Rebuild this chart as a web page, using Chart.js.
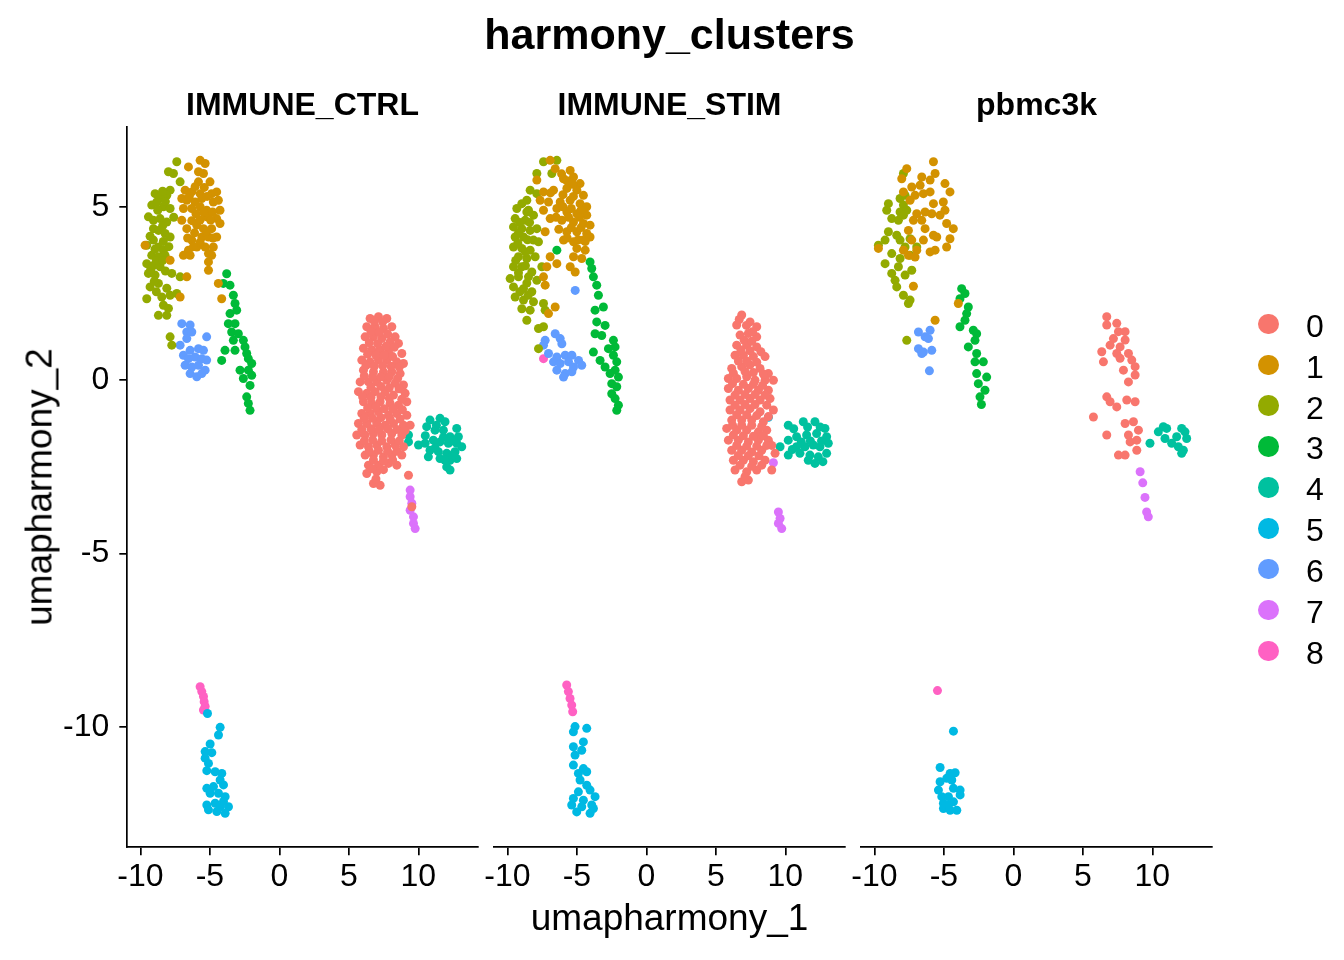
<!DOCTYPE html>
<html>
<head>
<meta charset="utf-8">
<script src="https://cdn.jsdelivr.net/npm/chart.js@4.4.1/dist/chart.umd.min.js"></script>
<style>
html,body{margin:0;padding:0;background:#fff;}
#wrap{position:relative;width:1344px;height:960px;overflow:hidden;font-family:"Liberation Sans",Arial,Helvetica,sans-serif;color:#000;}
canvas.layer{position:absolute;left:0;top:0;}
.txt{position:absolute;white-space:nowrap;line-height:1;}
.dot{position:absolute;border-radius:50%;}
</style>
</head>
<body>
<div id="wrap">
<canvas id="p0" class="layer" width="1344" height="960"></canvas>
<canvas id="p1" class="layer" width="1344" height="960"></canvas>
<canvas id="p2" class="layer" width="1344" height="960"></canvas>
</div>
<script>
// ---------------- data ----------------
const plotTitle = 'harmony_clusters';
const xAxisTitle = 'umapharmony_1';
const yAxisTitle = 'umapharmony_2';
const panels = ['IMMUNE_CTRL', 'IMMUNE_STIM', 'pbmc3k'];
const clusters = ['0', '1', '2', '3', '4', '5', '6', '7', '8'];
const clusterColors = ['#F8766D', '#D39200', '#93AA00', '#00BA38', '#00C19F', '#00B9E3', '#619CFF', '#DB72FB', '#FF61C3'];
const xTicks = [-10, -5, 0, 5, 10];
const yTicks = [-10, -5, 0, 5];
const xRange = [-10.94, 14.27];
const yRange = [-13.47, 7.31];

// IMMUNE_CTRL
const ctrl0 = [[6.53,1.78],[7.13,1.83],[7.73,1.78],[6.29,1.54],[6.89,1.54],[7.49,1.49],[8.09,1.54],[8.33,1.25],[6.17,1.25],[6.77,1.25],[7.37,1.20],[7.97,1.11],[8.57,1.06],[6.05,0.92],[6.65,0.87],[7.25,0.87],[7.85,0.82],[8.81,0.77],[5.93,0.58],[6.53,0.53],[7.13,0.58],[7.73,0.58],[8.45,0.53],[8.93,0.48],[6.05,0.29],[6.77,0.24],[7.49,0.24],[8.09,0.24],[8.69,0.19],[5.81,-0.05],[6.41,-0.05],[7.01,-0.05],[7.73,0.00],[8.33,-0.09],[8.93,-0.14],[5.69,-0.33],[6.29,-0.38],[6.89,-0.33],[7.61,-0.33],[8.21,-0.43],[9.05,-0.38],[9.17,-0.62],[6.05,-0.62],[6.65,-0.67],[7.25,-0.62],[7.97,-0.67],[8.57,-0.72],[5.93,-0.96],[6.53,-0.96],[7.13,-0.91],[7.85,-1.01],[8.45,-0.96],[9.17,-1.01],[5.69,-1.25],[6.29,-1.25],[7.01,-1.25],[7.61,-1.30],[8.21,-1.25],[8.93,-1.30],[9.41,-1.30],[5.57,-1.58],[6.17,-1.58],[6.77,-1.54],[7.37,-1.58],[8.09,-1.54],[8.81,-1.58],[5.81,-1.87],[6.41,-1.92],[7.01,-1.87],[7.73,-1.92],[8.33,-1.87],[8.93,-1.92],[6.17,-2.16],[6.77,-2.16],[7.49,-2.21],[8.09,-2.16],[8.81,-2.16],[6.41,-2.45],[7.13,-2.45],[7.85,-2.40],[8.45,-2.45],[6.29,-2.69],[7.01,-2.64],[9.29,-2.74],[6.77,-2.98],[7.25,-3.03],[9.53,-3.65],
  [6.83,1.70],[7.43,1.68],[6.59,1.40],[7.19,1.38],[7.79,1.33],[6.47,1.08],[7.07,1.05],[7.67,0.98],[8.27,0.95],[6.35,0.75],[6.95,0.72],[7.55,0.72],[8.15,0.68],[6.23,0.42],[6.83,0.40],[7.43,0.42],[8.03,0.40],[8.63,0.38],[6.11,0.12],[6.71,0.10],[7.31,0.10],[7.91,0.10],[8.51,0.05],[6.59,-0.20],[7.31,-0.18],[7.91,-0.22],[8.61,-0.25],[5.99,-0.48],[6.59,-0.50],[7.31,-0.48],[7.91,-0.52],[8.81,-0.55],[6.35,-0.80],[6.95,-0.78],[7.55,-0.82],[8.15,-0.82],[8.85,-0.85],[6.11,-1.10],[6.71,-1.10],[7.31,-1.08],[7.97,-1.12],[8.69,-1.12],[5.93,-1.42],[6.59,-1.40],[7.19,-1.42],[7.79,-1.40],[8.45,-1.42],[9.05,-1.45],[6.11,-1.75],[6.71,-1.72],[7.37,-1.75],[8.03,-1.72],[8.63,-1.75],[6.47,-2.05],[7.13,-2.02],[7.79,-2.05],[8.45,-2.05],[6.77,-2.30],[7.49,-2.32],[8.15,-2.30],[6.65,-2.55],[7.49,-2.58],[6.95,-2.85]];
const ctrl1 = [[-5.70,6.34],[-5.34,6.25],[-6.54,6.15],[-5.82,6.01],[-5.46,5.96],[-4.99,5.72],[-5.82,5.72],[-6.78,5.48],[-6.30,5.43],[-5.70,5.38],[-4.87,5.38],[-4.51,5.43],[-7.02,5.24],[-6.66,5.19],[-6.06,5.14],[-5.58,5.24],[-4.75,5.14],[-4.39,5.19],[-6.90,4.95],[-6.30,4.95],[-5.70,5.00],[-5.23,4.90],[-4.27,4.90],[-5.23,4.71],[-4.51,4.66],[-7.02,4.61],[-6.66,4.37],[-5.94,4.47],[-5.46,4.37],[-4.87,4.37],[-4.27,4.52],[-5.58,4.13],[-5.10,4.13],[-4.51,4.13],[-6.30,4.04],[-5.94,3.84],[-5.34,3.84],[-4.75,3.84],[-6.54,3.75],[-6.90,3.60],[-6.42,3.60],[-4.87,3.60],[-7.86,3.46],[-5.10,3.41],[-5.10,3.17],[-9.66,3.89],[-6.66,2.98],[-4.39,2.79],[-4.15,2.35],[-7.14,2.40],
  [-6.06,5.58],[-5.40,5.56],[-6.48,5.30],[-5.20,5.30],[-6.00,4.80],[-5.46,4.84],[-4.80,4.85],[-6.30,4.60],[-5.70,4.62],[-4.95,4.62],[-6.10,4.25],[-5.25,4.30],[-4.78,4.10],[-5.70,3.98],[-6.18,3.85],[-5.10,3.65],[-6.60,4.10]];
const ctrl2 = [[-7.38,6.30],[-7.98,6.01],[-7.62,5.96],[-7.14,5.72],[-7.86,5.48],[-8.94,5.38],[-8.58,5.29],[-8.10,5.33],[-9.18,5.05],[-8.82,5.14],[-8.34,5.00],[-7.86,4.95],[-9.42,4.71],[-9.06,4.61],[-8.58,4.66],[-8.10,4.56],[-9.06,4.37],[-8.70,4.32],[-8.22,4.23],[-7.86,4.13],[-9.54,3.89],[-9.06,4.04],[-8.70,3.84],[-8.34,3.75],[-9.18,3.60],[-8.70,3.56],[-8.22,3.60],[-9.54,3.36],[-9.06,3.31],[-8.58,3.27],[-9.42,3.08],[-8.94,3.03],[-7.74,3.08],[-7.14,2.98],[-8.70,2.79],[-9.30,2.69],[-9.54,2.35],[-8.46,2.40],[-7.86,2.45],[-7.38,2.50],[-8.34,2.16],[-7.98,2.07],[-8.70,1.87],[-8.10,1.87],[-7.86,1.25],[-7.74,1.01],
  [-8.40,5.45],[-8.20,5.15],[-8.75,4.90],[-7.60,4.70],[-8.40,4.45],[-9.30,4.15],[-8.35,4.00],[-8.95,3.78],[-7.95,3.85],[-8.85,3.45],[-8.40,3.45],[-9.25,3.20],[-8.20,3.15],[-9.00,2.85],[-8.10,2.65],[-8.85,2.55]];
const ctrl3 = [[-3.79,3.07],[-3.55,2.74],[-4.03,2.79],[-3.31,2.45],[-3.19,2.21],[-3.55,1.92],[-3.07,2.02],[-3.67,1.63],[-3.19,1.63],[-3.43,1.39],[-2.95,1.34],[-3.31,1.15],[-2.59,1.15],[-2.47,0.96],[-3.91,0.86],[-3.19,0.86],[-2.35,0.77],[-4.15,0.57],[-2.23,0.62],[-1.99,0.48],[-2.83,0.29],[-2.23,0.29],[-1.99,0.14],[-2.59,0.05],[-2.11,-0.15],[-2.35,-0.48],[-2.23,-0.67],[-2.11,-0.87]];
const ctrl4 = [[10.84,-1.15],[11.56,-1.10],[11.92,-1.20],[12.76,-1.39],[10.60,-1.34],[11.20,-1.44],[11.80,-1.44],[12.28,-1.63],[12.88,-1.63],[9.29,-1.58],[9.29,-1.78],[10.01,-1.87],[10.49,-1.82],[11.08,-1.73],[11.56,-1.78],[12.16,-1.82],[12.76,-1.82],[13.12,-1.92],[10.84,-2.02],[11.44,-2.06],[12.04,-2.11],[12.64,-2.06],[10.72,-2.21],[11.56,-2.26],[12.28,-2.31],[12.76,-2.26],[12.04,-2.50],[12.28,-2.59],
  [11.30,-1.30],[10.50,-1.60],[11.80,-1.65],[12.50,-1.75],[11.20,-1.95],[11.90,-2.30],[12.50,-2.15]];
const ctrl5 = [[-5.17,-9.61],[-4.26,-10.01],[-4.38,-10.23],[-4.98,-10.49],[-5.34,-10.71],[-4.86,-10.74],[-5.34,-10.90],[-5.10,-11.05],[-5.22,-11.26],[-4.62,-11.29],[-4.14,-11.34],[-4.26,-11.53],[-4.02,-11.67],[-5.22,-11.77],[-4.74,-11.72],[-4.98,-11.91],[-4.38,-11.91],[-3.90,-12.01],[-5.22,-12.25],[-4.62,-12.20],[-4.02,-12.15],[-3.66,-12.30],[-5.10,-12.39],[-4.50,-12.44],[-3.90,-12.49],[-4.26,-12.30]];
const ctrl6 = [[-7.02,1.63],[-6.42,1.59],[-6.66,1.39],[-6.30,1.39],[-5.23,1.25],[-6.66,1.20],[-7.14,1.01],[-6.42,0.86],[-5.82,0.91],[-5.46,0.86],[-6.90,0.72],[-6.54,0.62],[-6.06,0.67],[-5.58,0.62],[-5.23,0.58],[-6.78,0.43],[-6.30,0.38],[-5.82,0.43],[-5.34,0.29],[-6.42,0.19],[-5.94,0.10],[-5.58,0.19]];
const ctrl7 = [[9.41,-3.17],[9.41,-3.36],[9.53,-3.55],[9.41,-3.75],[9.65,-3.94],[9.65,-4.13],[9.77,-4.28]];
const ctrl8 = [[-5.70,-8.84],[-5.58,-8.98],[-5.46,-9.12],[-5.41,-9.27],[-5.34,-9.41],[-5.46,-9.51]];

// IMMUNE_STIM
const stim0 = [[6.86,1.88],[6.50,1.59],[7.46,1.68],[7.94,1.54],[6.74,1.30],[7.34,1.35],[7.94,1.25],[6.50,1.01],[7.22,1.01],[7.94,0.96],[6.38,0.72],[6.98,0.72],[7.70,0.68],[8.54,0.68],[6.14,0.34],[6.86,0.39],[7.46,0.44],[8.18,0.34],[8.78,0.19],[5.90,0.05],[6.50,0.05],[7.22,0.10],[7.82,0.00],[8.54,0.00],[9.14,0.00],[5.90,-0.24],[6.62,-0.29],[7.34,-0.24],[8.06,-0.29],[8.78,-0.29],[6.02,-0.57],[6.74,-0.57],[7.46,-0.53],[8.18,-0.57],[8.90,-0.53],[9.14,-0.86],[6.02,-0.86],[6.74,-0.86],[7.46,-0.82],[8.18,-0.91],[6.14,-1.15],[6.86,-1.15],[7.58,-1.15],[8.42,-1.20],[5.78,-1.39],[6.50,-1.44],[7.22,-1.44],[8.06,-1.49],[8.66,-1.44],[5.90,-1.73],[6.62,-1.73],[7.34,-1.78],[8.06,-1.73],[8.78,-1.73],[6.14,-2.02],[6.86,-2.02],[7.58,-2.07],[8.30,-2.02],[9.26,-2.11],[6.26,-2.31],[6.98,-2.31],[7.70,-2.35],[8.54,-2.31],[6.38,-2.59],[7.22,-2.64],[7.94,-2.59],[9.02,-2.59],[6.86,-2.93],[7.34,-2.88],
  [6.68,1.75],[7.20,1.58],[7.64,1.40],[7.04,1.15],[7.58,1.12],[6.80,0.87],[7.46,0.85],[8.24,0.82],[6.62,0.55],[7.22,0.55],[7.94,0.52],[6.26,0.20],[7.10,0.25],[7.70,0.22],[8.42,0.18],[6.20,-0.10],[6.98,-0.12],[7.70,-0.12],[8.36,-0.15],[6.38,-0.43],[7.10,-0.41],[7.82,-0.41],[8.54,-0.43],[6.38,-0.72],[7.10,-0.70],[7.82,-0.70],[8.66,-0.72],[6.50,-1.00],[7.22,-1.00],[7.94,-1.02],[8.78,-1.05],[6.20,-1.30],[6.86,-1.30],[7.58,-1.30],[8.30,-1.33],[6.26,-1.58],[6.98,-1.60],[7.70,-1.62],[8.42,-1.60],[9.02,-1.88],[6.50,-1.88],[7.22,-1.90],[7.94,-1.90],[8.66,-1.88],[6.62,-2.17],[7.34,-2.18],[8.10,-2.18],[6.74,-2.45],[7.58,-2.48],[8.30,-2.45],[7.10,-2.78]];
const stim1 = [[-6.92,6.34],[-6.56,6.10],[-7.88,5.77],[-5.48,6.05],[-5.96,5.81],[-5.24,5.86],[-4.77,5.67],[-7.40,5.43],[-6.68,5.48],[-5.72,5.53],[-5.00,5.48],[-4.53,5.33],[-7.64,5.19],[-7.04,5.14],[-6.20,5.14],[-5.48,5.19],[-4.77,5.09],[-4.29,5.00],[-7.40,4.90],[-6.44,4.95],[-5.72,4.85],[-5.00,4.80],[-4.29,4.76],[-6.92,4.66],[-6.08,4.61],[-5.24,4.56],[-4.53,4.52],[-4.05,4.47],[-7.28,4.28],[-5.72,4.28],[-5.00,4.28],[-4.29,4.23],[-5.96,4.04],[-5.24,3.99],[-4.53,4.04],[-4.05,4.13],[-6.92,3.56],[-6.44,3.36],[-7.16,3.27],[-5.24,3.56],[-4.65,3.51],[-5.48,3.27],[-5.12,3.12],[-7.40,2.98],[-7.28,2.74],[-6.56,2.11],[-7.04,1.92],
  [-6.10,5.95],[-5.72,5.75],[-5.30,5.65],[-6.00,5.35],[-5.25,5.30],[-6.90,5.40],[-6.00,5.00],[-5.40,4.95],[-4.70,4.90],[-6.50,4.70],[-5.60,4.70],[-4.80,4.70],[-5.40,4.40],[-4.70,4.40],[-6.30,4.35],[-5.70,4.10],[-4.90,4.05],[-4.40,4.00],[-5.00,3.80],[-4.40,3.75]];
const stim2 = [[-7.40,6.30],[-6.44,6.34],[-6.80,5.96],[-7.88,5.96],[-8.36,5.48],[-7.88,5.38],[-8.60,5.19],[-8.96,5.09],[-8.48,4.90],[-9.32,4.95],[-8.12,4.76],[-9.44,4.66],[-8.72,4.61],[-9.56,4.42],[-8.96,4.37],[-8.36,4.32],[-7.88,4.37],[-9.44,4.13],[-8.84,4.13],[-8.12,4.04],[-7.76,3.99],[-9.56,3.84],[-8.96,3.80],[-8.36,3.75],[-9.20,3.56],[-8.60,3.51],[-8.00,3.56],[-9.56,3.27],[-8.96,3.27],[-7.52,3.27],[-8.24,3.12],[-9.80,2.93],[-9.20,2.98],[-8.48,2.98],[-7.88,2.88],[-9.56,2.69],[-8.84,2.64],[-8.24,2.55],[-9.44,2.40],[-8.84,2.31],[-8.12,2.26],[-7.40,2.21],[-8.96,2.06],[-8.36,2.02],[-7.28,2.02],[-8.60,1.73],[-7.76,1.49],[-7.40,1.54],[-7.76,0.91],
  [-8.60,4.85],[-9.10,4.55],[-8.40,4.55],[-9.20,4.25],[-8.55,4.05],[-9.25,3.95],[-8.70,3.70],[-9.40,3.45],[-8.70,3.30],[-9.20,3.10],[-8.60,2.80],[-9.10,2.55],[-8.50,2.45]];
const stim3 = [[-6.44,3.75],[-4.05,3.41],[-3.93,3.22],[-3.81,2.98],[-3.57,2.74],[-3.45,2.45],[-3.69,2.02],[-3.09,2.11],[-3.57,1.68],[-2.97,1.58],[-3.69,1.34],[-3.21,1.29],[-2.37,1.15],[-2.25,0.96],[-2.73,0.91],[-3.81,0.81],[-2.37,0.72],[-3.33,0.57],[-2.13,0.53],[-2.97,0.38],[-2.25,0.29],[-2.61,0.19],[-2.01,0.09],[-2.49,-0.10],[-2.13,-0.19],[-2.49,-0.39],[-2.25,-0.53],[-2.01,-0.72],[-2.13,-0.87]];
const stim4 = [[10.21,-1.30],[11.29,-1.20],[12.13,-1.20],[12.85,-1.39],[9.62,-1.92],[10.21,-1.73],[10.81,-1.63],[11.53,-1.58],[12.25,-1.54],[12.97,-1.63],[13.09,-1.82],[10.21,-2.16],[10.81,-1.92],[11.41,-1.92],[12.01,-1.87],[12.49,-1.92],[11.05,-2.11],[11.77,-2.16],[12.37,-2.21],[12.97,-2.11],[11.65,-2.31],[12.13,-2.40],
  [10.60,-1.40],[11.60,-1.35],[12.50,-1.35],[11.15,-1.78],[11.80,-1.75],[12.60,-1.75],[10.50,-2.00],[12.70,-2.35]];
const stim5 = [[8.78,-1.07],[-5.13,-9.99],[-4.29,-10.04],[-5.25,-10.14],[-4.53,-10.43],[-5.25,-10.57],[-4.65,-10.67],[-5.13,-10.81],[-5.25,-11.10],[-4.53,-11.20],[-4.89,-11.34],[-4.29,-11.29],[-4.77,-11.53],[-4.29,-11.68],[-4.89,-11.87],[-4.05,-11.82],[-5.25,-12.06],[-4.53,-12.11],[-3.69,-12.01],[-5.37,-12.25],[-4.65,-12.30],[-3.93,-12.25],[-5.01,-12.45],[-4.05,-12.49],[-3.81,-12.35]];
const stim6 = [[-5.12,2.59],[-6.56,1.34],[-6.20,1.20],[-7.28,1.15],[-6.08,1.05],[-7.40,1.01],[-7.04,0.77],[-6.44,0.67],[-5.84,0.72],[-5.36,0.72],[-4.88,0.57],[-4.65,0.43],[-6.68,0.53],[-6.20,0.48],[-5.60,0.53],[-5.24,0.38],[-6.44,0.29],[-5.84,0.19],[-5.36,0.24],[-5.96,0.09]];
const stim7 = [[9.14,-2.38],[9.50,-3.80],[9.62,-3.99],[9.50,-4.13],[9.74,-4.28]];
const stim8 = [[-7.40,0.62],[-5.73,-8.79],[-5.61,-8.98],[-5.49,-9.18],[-5.37,-9.37],[-5.30,-9.56]];

// pbmc3k
const pbmc0 = [[6.72,1.83],[6.72,1.59],[7.44,1.64],[7.56,1.40],[8.04,1.40],[7.20,1.20],[8.04,1.16],[6.96,1.01],[7.68,0.96],[6.36,0.82],[7.44,0.77],[8.28,0.77],[6.48,0.53],[7.68,0.63],[8.52,0.58],[8.76,0.39],[7.92,0.29],[8.76,0.15],[8.28,-0.05],[6.72,-0.48],[6.96,-0.62],[7.44,-0.77],[8.16,-0.57],[8.76,-0.62],[5.76,-1.06],[8.04,-1.25],[8.64,-1.20],[9.00,-1.44],[6.72,-1.58],[8.28,-1.58],[8.40,-1.78],[8.88,-1.73],[7.56,-2.16],[8.04,-2.16],[8.88,-2.02]];
const pbmc1 = [[-7.67,6.10],[-5.75,6.30],[-5.63,5.96],[-6.59,5.86],[-5.99,5.77],[-8.03,5.81],[-7.31,5.57],[-6.71,5.62],[-5.99,5.43],[-4.92,5.67],[-4.56,5.43],[-7.91,5.43],[-7.07,5.33],[-6.47,5.38],[-7.43,5.19],[-5.75,5.09],[-5.04,5.14],[-4.92,4.90],[-6.95,4.80],[-6.35,4.85],[-5.87,4.80],[-7.19,4.61],[-6.59,4.61],[-5.28,4.76],[-4.80,4.52],[-4.32,4.37],[-7.55,4.32],[-6.35,4.37],[-5.75,4.18],[-5.51,4.13],[-4.56,4.08],[-7.31,4.04],[-6.47,4.04],[-7.91,3.75],[-6.95,3.75],[-5.99,3.70],[-5.63,3.75],[-4.80,3.84],[-7.55,3.60],[-7.07,3.55],[-9.71,3.80],[-7.19,2.71],[-3.96,2.21],[-5.63,1.73]];
const pbmc2 = [[-7.91,5.96],[-8.99,5.09],[-9.11,4.90],[-8.15,5.24],[-7.79,5.33],[-7.91,5.05],[-8.15,4.85],[-7.67,4.90],[-8.75,4.66],[-8.27,4.61],[-7.91,4.76],[-8.99,4.28],[-8.39,4.18],[-9.23,4.04],[-9.71,3.89],[-8.15,4.04],[-7.43,4.08],[-6.95,3.84],[-7.79,3.84],[-8.75,3.65],[-8.15,3.51],[-7.43,3.60],[-9.23,3.36],[-8.27,3.27],[-8.75,3.08],[-7.79,3.03],[-7.31,3.17],[-8.51,2.88],[-8.39,2.69],[-7.91,2.45],[-7.55,2.21],[-7.43,2.31],[-7.67,1.15]];
const pbmc3 = [[-3.72,2.64],[-3.48,2.50],[-3.84,2.35],[-3.24,2.11],[-3.36,1.92],[-3.48,1.73],[-3.84,1.54],[-2.88,1.44],[-2.64,1.34],[-2.76,1.15],[-3.24,0.96],[-2.64,0.77],[-2.76,0.53],[-2.16,0.53],[-2.64,0.19],[-1.92,0.09],[-2.52,-0.10],[-2.04,-0.29],[-2.40,-0.48],[-2.30,-0.70]];
const pbmc4 = [[9.83,-1.82],[10.43,-1.49],[10.79,-1.34],[11.03,-1.39],[10.91,-1.68],[11.39,-1.82],[11.75,-1.63],[12.11,-1.39],[12.35,-1.49],[12.47,-1.68],[11.87,-1.92],[12.23,-2.02],[12.11,-2.11]];
const pbmc5 = [[-4.31,-10.12],[-5.27,-11.17],[-4.55,-11.34],[-4.19,-11.32],[-4.79,-11.48],[-5.27,-11.58],[-4.43,-11.53],[-5.39,-11.82],[-4.31,-11.77],[-3.83,-11.82],[-3.83,-11.96],[-5.15,-12.01],[-4.67,-12.01],[-5.03,-12.20],[-4.31,-12.16],[-5.03,-12.35],[-4.55,-12.40],[-4.07,-12.40],[-4.67,-12.25]];
const pbmc6 = [[-6.83,1.39],[-6.35,1.25],[-5.99,1.44],[-6.11,1.20],[-6.83,0.91],[-6.47,0.81],[-5.87,0.86],[-6.59,0.77],[-6.04,0.27]];
const pbmc7 = [[9.12,-2.64],[9.31,-2.96],[9.47,-3.38],[9.59,-3.80],[9.71,-3.94]];
const pbmc8 = [[-5.46,-8.95]];

const panelSets = [
  [ctrl0, ctrl1, ctrl2, ctrl3, ctrl4, ctrl5, ctrl6, ctrl7, ctrl8],
  [stim0, stim1, stim2, stim3, stim4, stim5, stim6, stim7, stim8],
  [pbmc0, pbmc1, pbmc2, pbmc3, pbmc4, pbmc5, pbmc6, pbmc7, pbmc8]
];

// ---------------- layout ----------------
const W = 1344, H = 960;
const FONT = '"Liberation Sans", Arial, Helvetica, sans-serif';
const panelLeft = [127.3, 494.3, 861.3];
const panelWidth = 350.4;
const panelTop = 126.7, panelBottom = 847.3;
const xAxisH = 60;
const pointR = 4.5;
const ASC = 0.8465; // baseline offset for line-height:1 boxes

const wrap = document.getElementById('wrap');
function addText(str, cx, baseline, size, bold) {
  const d = document.createElement('div');
  d.className = 'txt';
  d.textContent = str;
  d.style.fontSize = size + 'px';
  d.style.fontWeight = bold ? 'bold' : 'normal';
  d.style.left = cx + 'px';
  d.style.top = (baseline - ASC * size) + 'px';
  d.style.transform = 'translateX(-50%)';
  wrap.appendChild(d);
  return d;
}
const plotCenter = (panelLeft[0] + panelLeft[2] + panelWidth) / 2;
addText(plotTitle, plotCenter, 49, 43, true);
panels.forEach((p, i) => addText(p, panelLeft[i] + panelWidth / 2, 115, 32, true));
addText(xAxisTitle, plotCenter, 930, 37, false);
const yt = document.createElement('div');
yt.className = 'txt';
yt.textContent = yAxisTitle;
yt.style.fontSize = '37px';
yt.style.left = '39px';
yt.style.top = ((panelTop + panelBottom) / 2) + 'px';
yt.style.transform = 'translate(-50%,-50%) rotate(-90deg)';
wrap.appendChild(yt);

// legend
const legX = 1268.7, legTop = 324, legStep = 40.85, legR = 10.3;
clusters.forEach((c, i) => {
  const cy = legTop + i * legStep;
  const d = document.createElement('div');
  d.className = 'dot';
  d.style.width = d.style.height = (2 * legR) + 'px';
  d.style.left = (legX - legR) + 'px';
  d.style.top = (cy - legR) + 'px';
  d.style.background = clusterColors[i];
  wrap.appendChild(d);
  const t = addText(c, 1306, cy + 13, 32, false);
  t.style.transform = 'none';
});

// ---------------- charts ----------------
function axisCommon() {
  return {
    type: 'linear',
    ticks: { font: { family: FONT, size: 32 }, color: '#000', autoSkip: false, maxRotation: 0, callback: v => String(v) },
    grid: { display: true, drawOnChartArea: false, drawTicks: true, tickLength: 8, color: '#000', lineWidth: 1.7 },
    border: { display: true, color: '#000', width: 1.7 }
  };
}
panelSets.forEach((sets, pi) => {
  const datasets = sets.map((pts, ci) => ({
    label: clusters[ci],
    data: pts.map(p => ({ x: p[0], y: p[1] })),
    backgroundColor: clusterColors[ci],
    borderWidth: 0,
    pointRadius: pointR,
    pointHoverRadius: pointR
  }));
  const xs = axisCommon();
  Object.assign(xs, {
    min: xRange[0], max: xRange[1],
    afterBuildTicks: s => { s.ticks = xTicks.map(v => ({ value: v })); },
    afterFit: s => { s.height = xAxisH; }
  });
  xs.ticks.padding = 3;
  const ys = axisCommon();
  Object.assign(ys, {
    display: pi === 0,
    min: yRange[0], max: yRange[1],
    afterBuildTicks: s => { s.ticks = yTicks.map(v => ({ value: v })); },
    afterFit: s => { s.width = (pi === 0) ? panelLeft[0] : 0; }
  });
  ys.ticks.padding = 10;
  new Chart(document.getElementById('p' + pi), {
    type: 'scatter',
    data: { datasets },
    options: {
      responsive: false,
      animation: false,
      events: [],
      layout: { padding: {
        left: pi === 0 ? 0 : panelLeft[pi],
        right: W - (panelLeft[pi] + panelWidth),
        top: panelTop,
        bottom: H - panelBottom - xAxisH
      } },
      plugins: { legend: { display: false }, tooltip: { enabled: false }, title: { display: false } },
      scales: { x: xs, y: ys }
    }
  });
});
</script>
</body>
</html>
